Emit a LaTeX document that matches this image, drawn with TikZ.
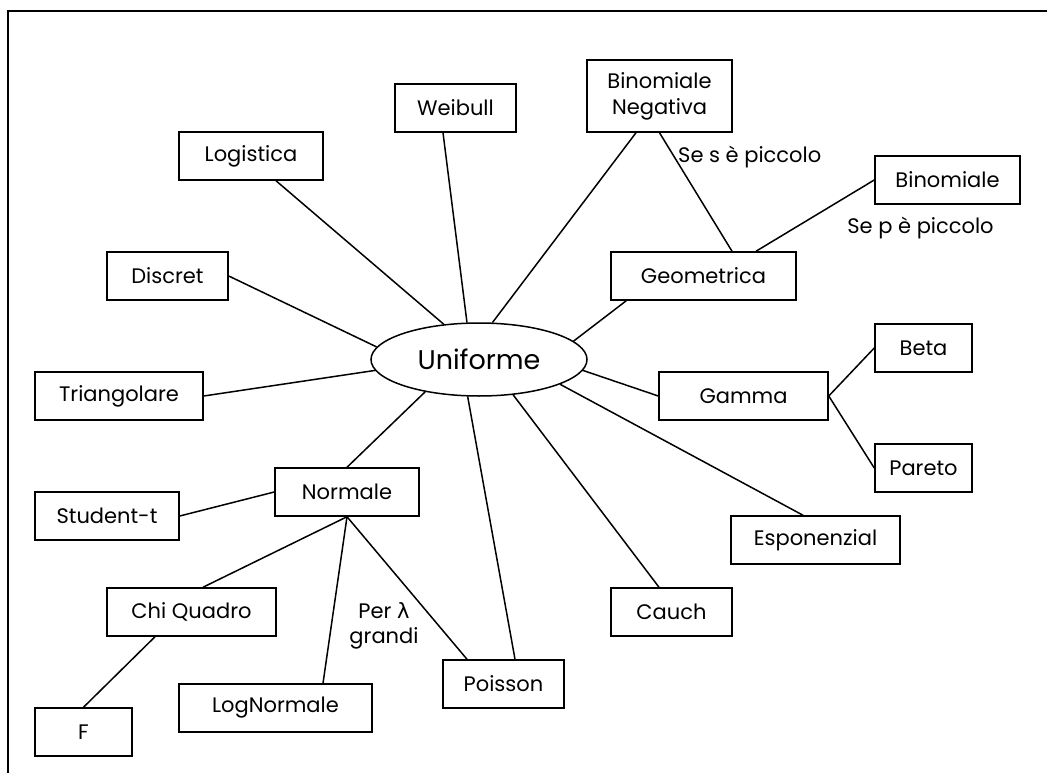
\documentclass[tikz,border=0pt]{standalone}
\usepackage{fontspec}
\setmainfont{Poppins}
\newfontfamily\greekfont{DejaVu Sans}
\usetikzlibrary{shapes.geometric}
\begin{document}
\begin{tikzpicture}[x=1pt,y=-1pt,
  box/.style={draw,line width=1.5pt,rectangle,inner sep=0pt,minimum height=48pt,
    align=center,font=\fontsize{21}{26}\selectfont},
  hub/.style={draw,line width=1.5pt,ellipse,inner sep=0pt,minimum width=216pt,
    minimum height=73pt,font=\fontsize{27}{32}\selectfont},
  link/.style={line width=1.5pt},
  note/.style={inner sep=0pt,align=center,font=\fontsize{21}{25}\selectfont}]
\useasboundingbox (0,0) rectangle (1047,773);

% frame
\draw[line width=2pt] (8,773) -- (8,11) -- (1047,11);

% central distribution
\node[hub] (unif) at (479,359.5) {Uniforme};

% boxes
\node[box,minimum width=121pt] (weib) at (455.5,108) {Weibull};
\node[box,minimum width=145pt,minimum height=72pt] (binneg) at (659.5,96) {Binomiale\\Negativa};
\node[box,minimum width=144pt] (logi) at (251,156) {Logistica};
\node[box,minimum width=145pt] (binom) at (947.5,180) {Binomiale};
\node[box,minimum width=185pt] (geom) at (703.5,276) {Geometrica};
\node[box,minimum width=121pt] (disc) at (167.5,276) {Discret};
\node[box,minimum width=97pt] (beta) at (923.5,348) {Beta};
\node[box,minimum width=168pt] (tri) at (119,396) {Triangolare};
\node[box,minimum width=169pt] (gamma) at (743.5,396) {Gamma};
\node[box,minimum width=144pt] (normale) at (347,492) {Normale};
\node[box,minimum width=144pt] (student) at (107,516) {Student-t};
\node[box,minimum width=97pt] (pareto) at (923.5,468) {Pareto};
\node[box,minimum width=169pt] (espo) at (815.5,540) {Esponenzial};
\node[box,minimum width=169pt] (chi) at (191.5,612) {Chi Quadro};
\node[box,minimum width=121pt] (cauch) at (671.5,612) {Cauch};
\node[box,minimum width=121pt] (poisson) at (503.5,684) {Poisson};
\node[box,minimum width=193pt] (lognorm) at (275.5,708) {LogNormale};
\node[box,minimum width=97pt] (fdist) at (83.5,732) {F};

% condition labels
\node[note,anchor=west] (lbls) at (678,157) {Se s è piccolo};
\node[note] (lblp) at (920.5,228) {Se p è piccolo};
\node[note] (lbll) at (384,625.5) {Per {\greekfont λ}\\grandi};

% links from the uniform
\draw[link] (unif.108.2) -- ([xshift=-12.5pt]weib.south);
\draw[link] (unif.70.4) -- ([xshift=-23.5pt]binneg.south);
\draw[link] (unif.135.4) -- ([xshift=25pt]logi.south);
\draw[link] (unif.173.8) -- (disc.east);
\draw[link] (unif.186.7) -- (tri.east);
\draw[link] (unif.11.1) -- ([xshift=16pt]geom.south west);
\draw[link] (unif.354.4) -- (gamma.west);
\draw[link] (unif.343.6) -- ([xshift=-12.5pt]espo.north);
\draw[link] (unif.314.6) -- ([xshift=-12.5pt]cauch.north);
\draw[link] (unif.253.2) -- ([xshift=11.5pt]poisson.north);
\draw[link] (unif.211.3) -- (normale.north);

% secondary links
\draw[link] (binneg.south) -- ([xshift=28.5pt]geom.north);
\draw[link] ([xshift=52.5pt]geom.north) -- (binom.west);
\draw[link] (gamma.east) -- (beta.west);
\draw[link] (gamma.east) -- (pareto.west);
\draw[link] (student.east) -- (normale.west);
\draw[link] (normale.south) -- ([xshift=11.5pt]chi.north);
\draw[link] (normale.south) -- ([xshift=47.5pt]lognorm.north);
\draw[link] (normale.south) -- ([xshift=-36.5pt]poisson.north);
\draw[link] ([xshift=-36.5pt]chi.south) -- (fdist.north);
\end{tikzpicture}
\end{document}
